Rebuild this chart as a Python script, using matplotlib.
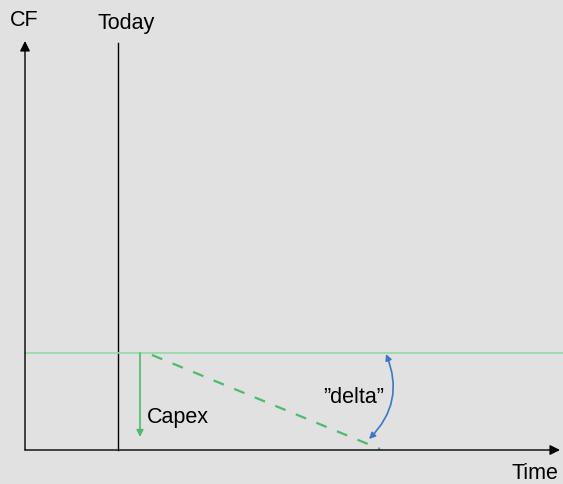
import matplotlib
matplotlib.use("Agg")
import matplotlib.pyplot as plt

plt.rcParams["font.family"] = ["Liberation Sans", "DejaVu Sans"]

# Diagram values (origin = where CF and Time axes meet)
axis_len_time = 535
axis_len_cf = 409
today = 93
baseline_cf = 97
capex_time = 115
capex_end_cf = 13
decline_time = [127, 355]
decline_cf = [95, 1]
delta_from = (361, 96)
delta_to = (344, 11)

BG = "#e1e1e1"
LIGHT_GREEN = "#8fdca4"
GREEN = "#4cbb6c"
BLUE = "#3a78c8"

fig = plt.figure(figsize=(5.63, 4.85), dpi=100)
fig.patch.set_facecolor(BG)
ax = fig.add_axes([0, 0, 1, 1])
ax.set_facecolor(BG)
ax.set_xlim(-25, 538)
ax.set_ylim(-34, 451)
ax.axis("off")

# axes with arrow heads
axis_arrow = dict(arrowstyle="-|>", color="black", lw=1.0, mutation_scale=15,
                  shrinkA=0, shrinkB=0)
ax.annotate("", xy=(0, axis_len_cf), xytext=(0, 0), arrowprops=axis_arrow)
ax.annotate("", xy=(axis_len_time, 0), xytext=(0, 0), arrowprops=axis_arrow)

# today line
ax.plot([today, today], [0, axis_len_cf - 2], color="black", lw=1.0)

# baseline cash flow
ax.plot([0, 538], [baseline_cf, baseline_cf], color=LIGHT_GREEN, lw=1.2)

# capex drop
ax.annotate("", xy=(capex_time, capex_end_cf), xytext=(capex_time, baseline_cf),
            arrowprops=dict(arrowstyle="-|>", color=GREEN, lw=1.2,
                            mutation_scale=10, shrinkA=0, shrinkB=0))

# declining cash flow
ax.plot(decline_time, decline_cf, color=GREEN, lw=1.6, ls=(0, (5, 5)))

# delta arc
ax.annotate("", xy=delta_to, xytext=delta_from,
            arrowprops=dict(arrowstyle="<|-|>", color=BLUE, lw=1.2,
                            mutation_scale=9, shrinkA=0, shrinkB=0,
                            connectionstyle="arc3,rad=-0.33"))

fs = 15.5
ax.text(-15, 430, "CF", fontsize=fs, va="center", ha="left")
ax.text(today + 8, 428, "Today", fontsize=fs, va="center", ha="center")
ax.text(capex_time + 7, 33, "Capex", fontsize=fs, va="center", ha="left")
ax.text(329, 53, "\u201ddelta\u201d", fontsize=fs, va="center", ha="center")
ax.text(533, -23, "Time", fontsize=fs, va="center", ha="right")

fig.savefig("out.png", dpi=100, facecolor=BG)
